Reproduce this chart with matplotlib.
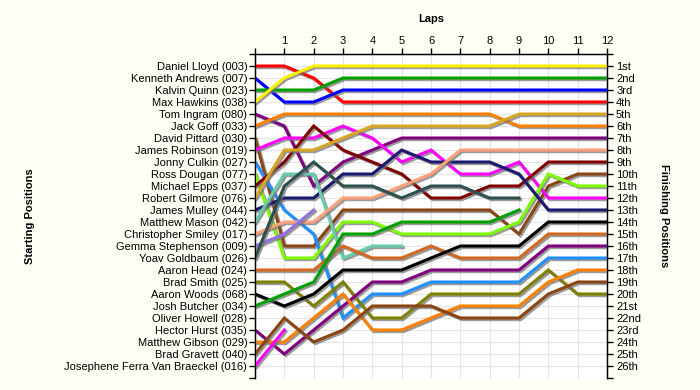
import matplotlib
matplotlib.use("Agg")
import matplotlib.pyplot as plt
import matplotlib.patheffects as pe

plt.rcParams['font.family'] = ['Liberation Sans', 'DejaVu Sans']

# starting grid order (top to bottom)
drivers = [
    "Daniel Lloyd (003)", "Kenneth Andrews (007)", "Kalvin Quinn (023)",
    "Max Hawkins (038)", "Tom Ingram (080)", "Jack Goff (033)",
    "David Pittard (030)", "James Robinson (019)", "Jonny Culkin (027)",
    "Ross Dougan (077)", "Michael Epps (037)", "Robert Gilmore (076)",
    "James Mulley (044)", "Matthew Mason (042)", "Christopher Smiley (017)",
    "Gemma Stephenson (009)", "Yoav Goldbaum (026)", "Aaron Head (024)",
    "Brad Smith (025)", "Aaron Woods (068)", "Josh Butcher (034)",
    "Oliver Howell (028)", "Hector Hurst (035)", "Matthew Gibson (029)",
    "Brad Gravett (040)", "Josephene Ferra Van Braeckel (016)",
]

finish_labels = ["1st", "2nd", "3rd"] + [f"{i}th" for i in range(4, 21)] + \
    ["21st", "22nd", "23rd", "24th", "25th", "26th"]

laps = list(range(0, 13))

# position at each lap (lap 0 = grid); short lists = retired
lap_positions = [
    [1, 1, 2, 4, 4, 4, 4, 4, 4, 4, 4, 4, 4],
    [2, 4, 4, 3, 3, 3, 3, 3, 3, 3, 3, 3, 3],
    [3, 3, 3, 2, 2, 2, 2, 2, 2, 2, 2, 2, 2],
    [4, 2, 1, 1, 1, 1, 1, 1, 1, 1, 1, 1, 1],
    [5, 6, 11, 9, 8, 7, 7, 7, 7, 7, 7, 7, 7],
    [6, 5, 5, 5, 5, 5, 5, 5, 5, 6, 6, 6, 6],
    [7, 16, 16, 13, 13, 13, 13, 13, 13, 15, 11, 10, 10],
    [8, 7, 7, 6, 7, 9, 8, 10, 10, 9, 12, 12, 12],
    [9, 13, 15, 22, 20, 20, 19, 19, 19, 19, 17, 17, 17],
    [10, 17, 17, 14, 14, 15, 15, 15, 15, 14, 10, 11, 11],
    [11, 9, 6, 8, 9, 10, 12, 12, 11, 11, 9, 9, 9],
    [12, 8, 8, 7, 6, 6, 6, 6, 6, 5, 5, 5, 5],
    [13, 12, 12, 10, 10, 8, 9, 9, 9, 10, 13, 13, 13],
    [14, 10, 10, 17, 16, 16],
    [15, 14, 14, 12, 12, 11, 10, 8, 8, 8, 8, 8, 8],
    [16, 15, 13],
    [17, 11, 9, 11, 11, 12, 11, 11, 12, 12],
    [18, 18, 18, 16, 17, 17, 16, 17, 17, 17, 15, 15, 15],
    [19, 19, 21, 19, 22, 22, 20, 20, 20, 20, 18, 20, 20],
    [20, 21, 20, 18, 18, 18, 17, 16, 16, 16, 14, 14, 14],
    [21, 20, 19, 15, 15, 14, 14, 14, 14, 13],
    [],
    [23, 25, 23, 21, 19, 19, 18, 18, 18, 18, 16, 16, 16],
    [24, 24, 22, 20, 23, 23, 22, 21, 21, 21, 19, 18, 18],
    [25, 22, 24, 23, 21, 21, 21, 22, 22, 22, 20, 19, 19],
    [26, 23],
]

colors = [
    "#FF0000", "#0000FF", "#00A000", "#FFEE00", "#800080", "#FF8000",
    "#8B4513", "#FF00FF", "#1E90FF", "#7CFC00", "#800000", "#DAA520",
    "#191970", "#66CDAA", "#FFA07A", "#9370DB", "#2F4F4F", "#D2691E",
    "#808000", "#000000", "#00A000", "#808080", "#800080", "#FF8000",
    "#8B4513", "#FF00FF",
]

fig = plt.figure(figsize=(7, 3.9), dpi=100, facecolor="#FFFFF6")
ax = fig.add_axes([0.3643, 0.0308, 0.5029, 0.8307])
ax.set_facecolor("white")

shadow = [pe.SimpleLineShadow(offset=(1.2, -1.2), shadow_color="#707070", alpha=0.7),
          pe.Normal()]

for pos, col in zip(lap_positions, colors):
    if not pos:
        continue
    ax.plot(laps[:len(pos)], pos, color=col, lw=2.2, solid_joinstyle="miter",
            path_effects=shadow, zorder=3)

ax.set_xlim(0, 12)
ax.set_ylim(27, 0)

ax.xaxis.tick_top()
ax.set_xticks(laps)
ax.set_xticklabels([""] + [str(l) for l in laps[1:]], fontsize=8)
ax.set_yticks(range(0, 28))
ax.set_yticklabels([""] + drivers + [""], fontsize=8)
ax.tick_params(axis="both", direction="out", length=4, width=1, color="black", pad=1.5)

ax.grid(True, color="#E4E4E4", lw=0.8, zorder=0)
ax.set_axisbelow(True)
ax.spines["bottom"].set_visible(False)
for s in ("top", "left", "right"):
    ax.spines[s].set_linewidth(1)

ax2 = ax.twinx()
ax2.set_ylim(27, 0)
ax2.set_yticks(range(0, 28))
ax2.set_yticklabels([""] + finish_labels + [""], fontsize=8)
ax2.tick_params(axis="y", direction="out", length=4, width=1, pad=2.5)
ax2.spines["bottom"].set_visible(False)

ax.set_title("Laps", fontsize=8, fontweight="bold", pad=10)
ax.set_ylabel("Starting Positions", fontsize=8, fontweight="bold")
ax2.set_ylabel("Finishing Positions", fontsize=8, fontweight="bold", rotation=-90)
ax.yaxis.set_label_coords(-0.625, 0.5)
ax2.yaxis.set_label_coords(1.175, 0.5)

fig.savefig("out.png", dpi=100, facecolor=fig.get_facecolor())
